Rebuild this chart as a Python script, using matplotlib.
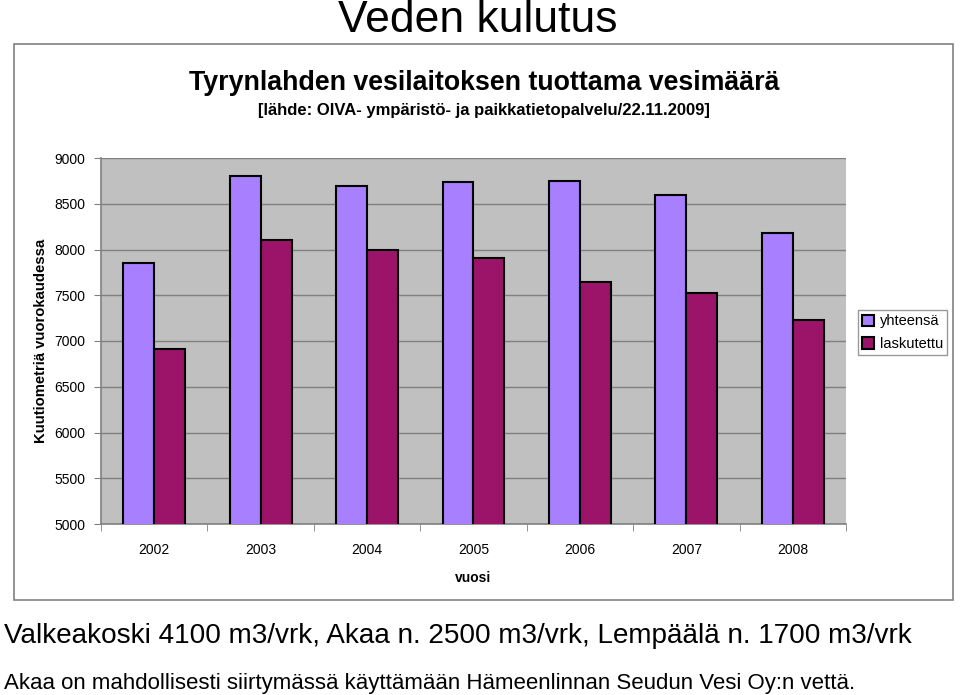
import numpy as np
import matplotlib
matplotlib.use('Agg')
import matplotlib.pyplot as plt
from matplotlib.patches import Rectangle

plt.rcParams['font.family'] = ['Liberation Sans', 'DejaVu Sans']

years = ['2002', '2003', '2004', '2005', '2006', '2007', '2008']
yhteensa = [7850, 8800, 8690, 8740, 8750, 8600, 8180]
laskutettu = [6910, 8100, 8000, 7910, 7650, 7525, 7230]

W, H = 960, 695
fig = plt.figure(figsize=(W / 100, H / 100), dpi=100)

def fx(px):
    return px / W

def fy(py):
    return 1 - py / H

# chart frame
fig.patches.append(Rectangle((fx(14), fy(600)), fx(953) - fx(14), fy(44) - fy(600),
                             transform=fig.transFigure, fill=False,
                             edgecolor='#808080', linewidth=1.2))

ax = fig.add_axes([fx(101), fy(524), fx(846) - fx(101), fy(158) - fy(524)])
ax.set_facecolor('#C0C0C0')

x = np.arange(len(years))
w = 0.29
ax.bar(x - w / 2, yhteensa, w, color='#A77FFF', edgecolor='black', linewidth=1.5,
       label='yhteensä', zorder=3)
ax.bar(x + w / 2, laskutettu, w, color='#9B1469', edgecolor='black', linewidth=1.5,
       label='laskutettu', zorder=3)

ax.set_ylim(5000, 9000)
ax.set_xlim(-0.5, len(years) - 0.5)
ax.set_yticks(np.arange(5000, 9001, 500))
ax.yaxis.grid(True, color='#808080', linewidth=1.0, zorder=1)
ax.set_xticks(x)
ax.set_xticklabels(years)
ax.set_xticks(np.arange(-0.5, len(years)), minor=True)
ax.tick_params(axis='x', which='major', length=0, labelsize=10, pad=14)
ax.tick_params(axis='x', which='minor', length=5, color='#808080')
ax.tick_params(axis='y', length=5, color='#808080', labelsize=10, pad=6)
for s in ['top', 'right']:
    ax.spines[s].set_visible(False)
for s in ['left', 'bottom']:
    ax.spines[s].set_color('#808080')
    ax.spines[s].set_linewidth(1.2)

ax.set_xlabel('vuosi', fontsize=10, fontweight='bold', labelpad=10)
ax.set_ylabel('Kuutiometriä vuorokaudessa', fontsize=10.7, fontweight='bold', labelpad=5)

leg = ax.legend(loc='upper left', bbox_to_anchor=(1.016, 0.585), fontsize=10.5,
                frameon=True, fancybox=False, edgecolor='#808080',
                handlelength=0.8, handleheight=0.8, handletextpad=0.4,
                borderpad=0.3, labelspacing=0.6, borderaxespad=0)
leg.get_frame().set_linewidth(1.0)

fig.text(fx(484), fy(83), 'Tyrynlahden vesilaitoksen tuottama vesimäärä',
         ha='center', va='center', fontsize=19.3, fontweight='bold')
fig.text(fx(484), fy(110), '[lähde: OIVA- ympäristö- ja paikkatietopalvelu/22.11.2009]',
         ha='center', va='center', fontsize=12, fontweight='bold')

fig.text(fx(478), fy(21), 'Veden kulutus', ha='center', va='center', fontsize=32)
fig.text(fx(4), fy(636), 'Valkeakoski 4100 m3/vrk, Akaa n. 2500 m3/vrk, Lempäälä n. 1700 m3/vrk',
         ha='left', va='center', fontsize=20.1)
fig.text(fx(4), fy(683), 'Akaa on mahdollisesti siirtymässä käyttämään Hämeenlinnan Seudun Vesi Oy:n vettä.',
         ha='left', va='center', fontsize=16)

fig.savefig('out.png', dpi=100)
